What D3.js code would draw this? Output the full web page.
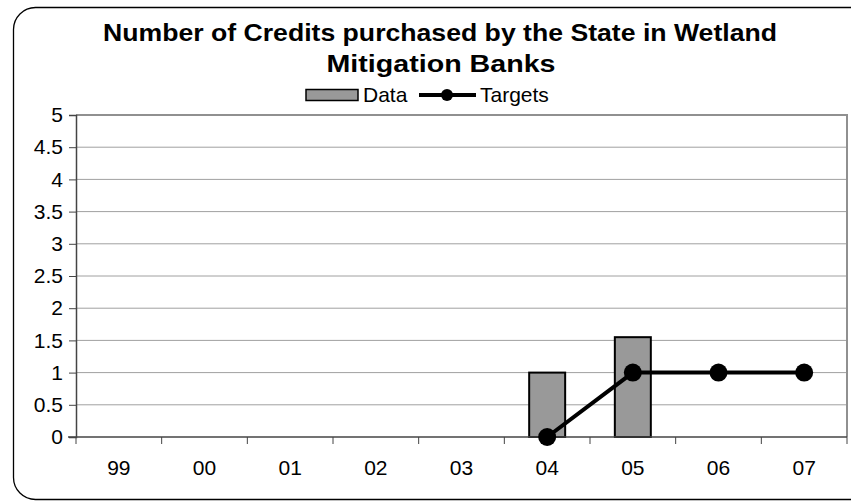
<!DOCTYPE html>
<html>
<head>
<meta charset="utf-8">
<script src="https://cdn.jsdelivr.net/npm/d3@7"></script>
<style>
  html, body { margin: 0; padding: 0; background: #fff; }
  svg { display: block; font-family: "Liberation Sans", Arial, sans-serif; }
</style>
</head>
<body>
<svg id="chart" width="851" height="502"></svg>
<script>
// Fiscal years shown along the x axis
const categories = ["99", "00", "01", "02", "03", "04", "05", "06", "07"];
// Credits actually purchased (null = nothing reported)
const dataValues = [null, null, null, null, null, 1, 1.55, null, null];
// Target number of credits
const targetValues = [null, null, null, null, null, 0, 1, 1, 1];
// Y axis tick labels
const yTicks = [0, 0.5, 1, 1.5, 2, 2.5, 3, 3.5, 4, 4.5, 5];

const svg = d3.select("#chart");
const labelSize = 21;

// Outer rounded frame
svg.append("rect")
  .attr("x", 13.5).attr("y", 7.5)
  .attr("width", 870).attr("height", 492)
  .attr("rx", 22).attr("ry", 22)
  .attr("fill", "#fff").attr("stroke", "#000").attr("stroke-width", 1.3);

// Title
const title = svg.append("text")
  .attr("text-anchor", "middle")
  .attr("font-weight", "bold")
  .attr("font-size", 23)
  .attr("fill", "#000");
title.append("tspan").attr("x", 440).attr("y", 41)
  .attr("textLength", 674).attr("lengthAdjust", "spacingAndGlyphs")
  .text("Number of Credits purchased by the State in Wetland");
title.append("tspan").attr("x", 441).attr("y", 72)
  .attr("textLength", 229).attr("lengthAdjust", "spacingAndGlyphs")
  .text("Mitigation Banks");

const plot = { left: 76, right: 847, top: 115, bottom: 437 };

const x = d3.scaleBand().domain(categories).range([plot.left, plot.right]).padding(0);
const y = d3.scaleLinear().domain([0, 5]).range([plot.bottom, plot.top]);

// Gridlines
svg.append("g")
  .selectAll("line")
  .data(yTicks.filter(d => d > 0))
  .join("line")
  .attr("x1", plot.left).attr("x2", plot.right)
  .attr("y1", d => y(d)).attr("y2", d => y(d))
  .attr("stroke", "#a0a0a0").attr("stroke-width", 1);

// Plot border (top and right)
svg.append("path")
  .attr("d", `M${plot.left},${plot.top}H${plot.right}V${plot.bottom}`)
  .attr("fill", "none").attr("stroke", "#909090").attr("stroke-width", 2);

// Bars
const barW = x.bandwidth() * 0.42;
svg.append("g")
  .selectAll("rect")
  .data(categories.map((c, i) => ({ c, v: dataValues[i] })).filter(d => d.v != null))
  .join("rect")
  .attr("x", d => x(d.c) + x.bandwidth() / 2 - barW / 2)
  .attr("y", d => y(d.v))
  .attr("width", barW)
  .attr("height", d => y(0) - y(d.v))
  .attr("fill", "#999999")
  .attr("stroke", "#000").attr("stroke-width", 2);

// Y axis
const yAxis = svg.append("g")
  .attr("transform", `translate(${plot.left},0)`)
  .call(d3.axisLeft(y).tickValues(yTicks).tickSize(7).tickPadding(6)
    .tickFormat(d3.format("")));
yAxis.attr("font-size", labelSize).attr("font-family", "Liberation Sans, Arial, sans-serif");
yAxis.select(".domain").attr("stroke", "#444").attr("stroke-width", 1.5);
yAxis.selectAll(".tick line").attr("stroke", "#444");
yAxis.selectAll("text").attr("fill", "#000");

// X axis: ticks on category boundaries
const xAxisG = svg.append("g").attr("transform", `translate(0,${plot.bottom})`);
xAxisG.append("line")
  .attr("x1", plot.left - 8).attr("x2", plot.right)
  .attr("stroke", "#444").attr("stroke-width", 1.5);
xAxisG.selectAll("line.tick")
  .data(categories.map(c => x(c)).concat([plot.right]))
  .join("line")
  .attr("class", "tick")
  .attr("x1", d => d).attr("x2", d => d)
  .attr("y1", 0).attr("y2", 7)
  .attr("stroke", "#444").attr("stroke-width", 1);
xAxisG.selectAll("text")
  .data(categories)
  .join("text")
  .attr("x", d => x(d) + x.bandwidth() / 2)
  .attr("y", 38)
  .attr("text-anchor", "middle")
  .attr("font-size", labelSize).attr("fill", "#000")
  .text(d => d);

// Targets line with markers
const targetPts = categories.map((c, i) => ({ c, v: targetValues[i] })).filter(d => d.v != null);
const line = d3.line().x(d => x(d.c) + x.bandwidth() / 2).y(d => y(d.v));
svg.append("path")
  .datum(targetPts)
  .attr("d", line)
  .attr("fill", "none").attr("stroke", "#000").attr("stroke-width", 4);
svg.append("g")
  .selectAll("circle")
  .data(targetPts)
  .join("circle")
  .attr("cx", d => x(d.c) + x.bandwidth() / 2)
  .attr("cy", d => y(d.v))
  .attr("r", 9)
  .attr("fill", "#000");

// Legend
const legend = svg.append("g");
legend.append("rect")
  .attr("x", 306).attr("y", 89.5).attr("width", 52).attr("height", 11)
  .attr("fill", "#999999").attr("stroke", "#000").attr("stroke-width", 1.5);
legend.append("text")
  .attr("x", 363).attr("y", 102).attr("font-size", labelSize).text("Data");
legend.append("line")
  .attr("x1", 419).attr("x2", 476).attr("y1", 95).attr("y2", 95)
  .attr("stroke", "#000").attr("stroke-width", 4);
legend.append("circle").attr("cx", 447).attr("cy", 95).attr("r", 6).attr("fill", "#000");
legend.append("text")
  .attr("x", 480).attr("y", 102).attr("font-size", labelSize).text("Targets");
</script>
</body>
</html>
